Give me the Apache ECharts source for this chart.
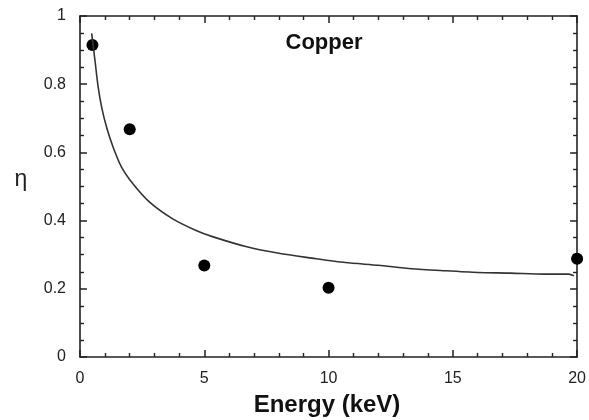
<!DOCTYPE html>
<html>
<head>
<meta charset="utf-8">
<script src="https://cdn.jsdelivr.net/npm/echarts@6/dist/echarts.min.js"></script>
<style>html,body{margin:0;padding:0;background:#fff;}#c{width:589px;height:420px;}</style>
</head>
<body>
<div id="c"></div>
<script>
// Measured data points (Energy keV, eta)
var pointX = [0.5, 2, 5, 10, 20];
var pointY = [0.915, 0.668, 0.268, 0.203, 0.288];
// Fitted curve
var curveX = [0.47, 0.6, 0.73, 0.87, 1.07, 1.33, 1.67, 2.13, 2.8, 3.73, 4.67, 5.33, 6.67, 8.0, 9.33, 10.67, 12.0, 13.33, 14.67, 16.0, 17.33, 18.67, 19.67, 19.87];
var curveY = [0.949, 0.871, 0.792, 0.733, 0.674, 0.616, 0.557, 0.508, 0.454, 0.405, 0.371, 0.353, 0.324, 0.304, 0.290, 0.277, 0.269, 0.259, 0.253, 0.248, 0.246, 0.243, 0.243, 0.238];
var xTicks = [0, 5, 10, 15, 20];
var yTicks = [0, 0.2, 0.4, 0.6, 0.8, 1];

var font = 'Liberation Sans, Arial, Helvetica, sans-serif';
var axisColor = '#222';

function mkX(pos, showLabel) {
  return {
    type: 'value', position: pos, min: xTicks[0], max: xTicks[xTicks.length-1], interval: 5,
    axisLine: {show: true, onZero: false, lineStyle: {color: axisColor, width: 1.6}},
    axisTick: {show: true, inside: true, length: 7, lineStyle: {color: axisColor, width: 1.5}},
    minorTick: {show: true, splitNumber: 5, length: 4, lineStyle: {color: axisColor, width: 1.4}},
    splitLine: {show: false},
    axisLabel: {show: showLabel, color: '#222', fontFamily: font, fontSize: 16, margin: 14},
    minorSplitLine: {show: false}
  };
}
function mkY(pos, showLabel) {
  return {
    type: 'value', position: pos, min: yTicks[0], max: yTicks[yTicks.length-1], interval: 0.2,
    axisLine: {show: true, onZero: false, lineStyle: {color: axisColor, width: 1.6}},
    axisTick: {show: true, inside: true, length: 7, lineStyle: {color: axisColor, width: 1.5}},
    minorTick: {show: true, splitNumber: 4, length: 4, lineStyle: {color: axisColor, width: 1.4}},
    splitLine: {show: false},
    axisLabel: {show: showLabel, color: '#222', fontFamily: font, fontSize: 16, margin: 14,
      formatter: function(v){ return String(Math.round(v*10)/10); }}
  };
}

var chart = echarts.init(document.getElementById('c'), null, {renderer: 'canvas'});
chart.setOption({
  animation: false,
  backgroundColor: '#fff',
  grid: {left: 80, right: 10, top: 16, bottom: 63},
  xAxis: [mkX('bottom', true), mkX('top', false)],
  yAxis: [mkY('left', true), mkY('right', false)],
  graphic: [
    {type: 'text', x: 327, y: 405, style: {text: 'Energy (keV)', font: 'bold 24px ' + font, fill: '#111', textAlign: 'center', textVerticalAlign: 'middle'}},
    {type: 'text', x: 324, y: 43, style: {text: 'Copper', font: 'bold 22px ' + font, fill: '#111', textAlign: 'center', textVerticalAlign: 'middle'}},
    {type: 'text', x: 21, y: 180, style: {text: 'η', font: '23px ' + font, fill: '#222', textAlign: 'center', textVerticalAlign: 'middle'}}
  ],
  series: [
    {
      type: 'line', xAxisIndex: 0, yAxisIndex: 0, symbol: 'none', smooth: 0.25,
      lineStyle: {color: '#333', width: 1.6},
      data: curveX.map(function(x, i){ return [x, curveY[i]]; })
    },
    {
      type: 'scatter', xAxisIndex: 0, yAxisIndex: 0, symbol: 'circle', symbolSize: 12,
      itemStyle: {color: '#000', opacity: 1},
      data: pointX.map(function(x, i){ return [x, pointY[i]]; })
    }
  ]
});
</script>
</body>
</html>
